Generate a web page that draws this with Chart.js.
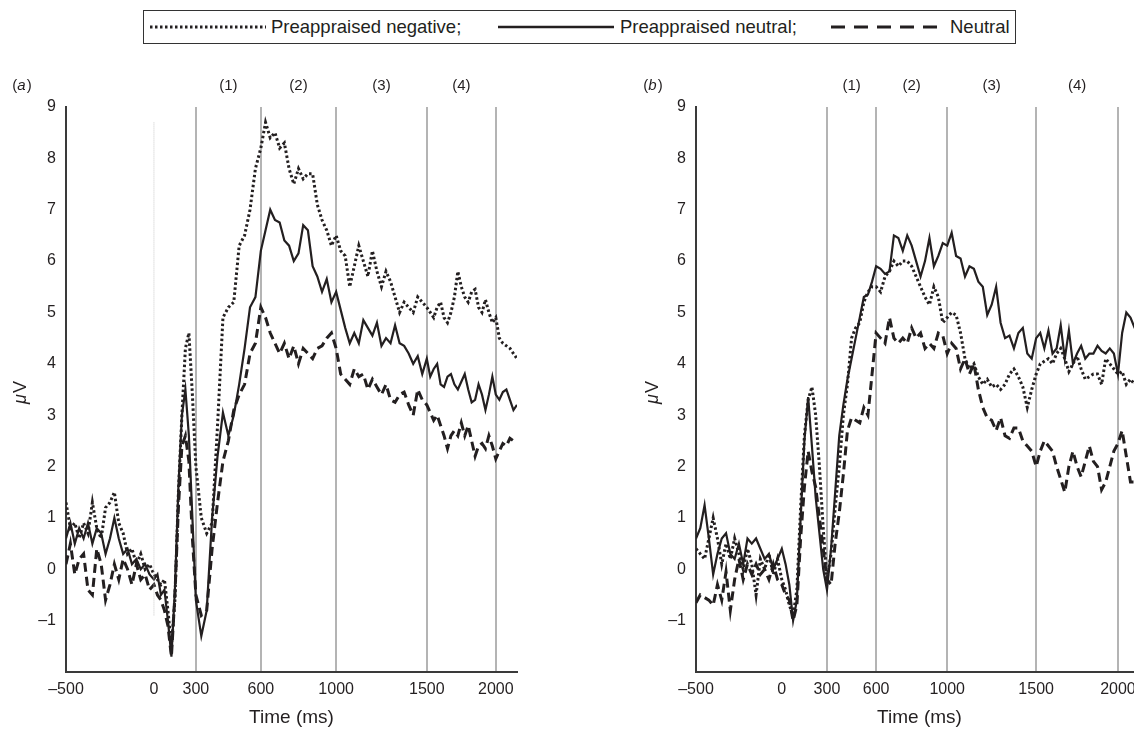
<!DOCTYPE html>
<html>
<head>
<meta charset="utf-8">
<script src="https://cdn.jsdelivr.net/npm/chart.js@4/dist/chart.umd.min.js"></script>
<style>
html, body { margin: 0; padding: 0; width: 1134px; height: 729px; overflow: hidden; background: #fff; }
body { font-family: "Liberation Sans", Arial, sans-serif; color: #231f20; position: relative; }
#legend { position: absolute; left: 143px; top: 10px; width: 871px; height: 32px; border: 1.5px solid #333; }
#legend svg { position: absolute; left: 0; top: 0; }
#legend span { position: absolute; top: 5px; font-size: 18.5px; line-height: 22px; white-space: nowrap; }
#wrapA { position: absolute; left: 0; top: 60px; width: 560px; height: 669px; }
#wrapB { position: absolute; left: 630px; top: 60px; width: 520px; height: 669px; }
</style>
</head>
<body>
<div id="legend">
  <svg width="871" height="32">
    <line x1="6" y1="16" x2="122" y2="16" stroke="#231f20" stroke-width="3" stroke-dasharray="2.5 2.5"/>
    <line x1="354" y1="16" x2="470" y2="16" stroke="#231f20" stroke-width="2.5"/>
    <line x1="687" y1="16" x2="799" y2="16" stroke="#231f20" stroke-width="3" stroke-dasharray="14 9"/>
  </svg>
  <span id="leg0" style="left:127px"></span>
  <span id="leg1" style="left:476px"></span>
  <span id="leg2" style="left:806px"></span>
</div>
<div id="wrapA"><canvas id="chartA"></canvas></div>
<div id="wrapB"><canvas id="chartB"></canvas></div>
<script>
// time axis in ms, one value every 25 ms
const times = [
  -500, -475, -450, -425, -400, -375, -350, -325, -300, -275, -250, -225, -200, -175, -150, -125, -100, -75, -50, -25, 0,
  25, 50, 75, 100, 125, 150, 175, 200, 225, 250, 275, 300,
  325, 350, 375, 400, 425, 450, 475, 500, 525, 550, 575, 600,
  625, 650, 675, 700, 725, 750, 775, 800, 825, 850, 875, 900, 925, 950, 975, 1000,
  1025, 1050, 1075, 1100, 1125, 1150, 1175, 1200, 1225, 1250, 1275, 1300, 1325, 1350, 1375, 1400, 1425, 1450, 1475, 1500,
  1525, 1550, 1575, 1600, 1625, 1650, 1675, 1700, 1725, 1750, 1775, 1800, 1825, 1850, 1875, 1900, 1925, 1950, 1975, 2000,
  2025, 2050, 2075, 2100, 2125, 2150
];

const seriesNames = ['Preappraised negative;', 'Preappraised neutral;', 'Neutral'];

// panel (a)
const negA = [
  1.3, 0.8, 0.9, 0.6, 0.9, 0.7, 1.3, 0.8, 0.6, 1.2, 1.3, 1.5, 0.9, 0.7, 0.3, 0.4, 0.1, 0.3, 0.0, 0.1, -0.1,
  -0.2, -0.3, -0.2, -0.8, -1.5, -0.6, 1.5, 3.0, 4.3, 4.6, 3.4, 2.0,
  1.0, 0.7, 0.9, 2.8, 4.9, 5.1, 5.2, 6.3, 6.5, 7.0, 7.8, 8.2,
  8.7, 8.4, 8.5, 8.2, 8.3, 7.8, 7.5, 7.8, 7.6, 7.7, 7.7, 7.1, 6.8, 6.6, 6.3, 6.5,
  6.2, 6.1, 5.5, 5.9, 6.3, 6.0, 5.7, 6.2, 5.8, 5.5, 5.8, 5.6, 5.3, 5.0, 5.2, 5.1, 5.0, 5.3, 5.2, 5.1,
  5.0, 4.9, 5.1, 5.2, 4.9, 4.8, 5.0, 5.3, 5.8, 5.5, 5.3, 5.2, 5.4, 5.45, 5.1, 5.0, 5.25, 5.0, 4.8, 4.9,
  4.5, 4.4, 4.35, 4.3, 4.2, 4.1
];
const neuA = [
  0.6, 0.9, 0.5, 0.8, 0.6, 0.9, 0.5, 0.8, 0.7, 0.3, 0.6, 1.0, 0.6, 0.3, 0.4, 0.1, 0.2, 0.0, 0.1, -0.1, -0.2,
  -0.1, -0.5, -0.4, -1.0, -1.7, -0.4, 1.6, 3.0, 3.5, 2.6, 1.0, -0.6,
  -1.3, -0.8, 1.0, 2.2, 3.05, 2.6, 3.0, 3.6, 4.3, 5.1, 5.3, 6.2,
  6.6, 7.0, 6.8, 6.75, 6.4, 6.3, 6.0, 6.15, 6.7, 6.6, 5.9, 5.7, 5.4, 5.65, 5.2, 5.4,
  5.05, 4.7, 4.4, 4.6, 4.4, 4.85, 4.7, 4.55, 4.8, 4.35, 4.5, 4.4, 4.75, 4.4, 4.35, 4.2, 4.0, 4.15, 3.8, 4.1,
  3.75, 3.9, 4.0, 3.6, 3.55, 3.75, 3.8, 3.6, 3.5, 3.65, 3.8, 3.5, 3.25, 3.3, 3.6, 3.4, 3.1, 3.4, 3.75, 3.4,
  3.3, 3.45, 3.5, 3.3, 3.1, 3.2
];
const ctlA = [
  0.1, 0.5, -0.1, 0.2, 0.3, -0.4, -0.5, 0.4, 0.1, -0.6, -0.3, 0.1, -0.2, 0.2, 0.0, -0.3, 0.1, -0.2, -0.1, -0.4, -0.3,
  -0.5, -0.6, -0.8, -1.1, -1.7, -0.5, 1.2, 2.4, 2.6, 2.1, 0.6, -0.5,
  -0.9, -0.8, 0.4, 1.3, 2.1, 2.5, 3.1, 3.4, 3.6, 4.2, 4.4, 5.1,
  4.9, 4.6, 4.4, 4.2, 4.4, 4.1, 4.35, 4.0, 4.3, 4.2, 4.1, 4.3, 4.35, 4.5, 4.6, 4.3,
  3.8, 3.7, 3.6, 3.9, 3.75, 3.8, 3.5, 3.7, 3.55, 3.4, 3.6, 3.3, 3.25, 3.4, 3.45, 3.2, 3.0, 3.5, 3.3, 3.2,
  3.05, 2.9, 3.0, 2.8, 2.6, 2.35, 2.6, 2.7, 2.6, 2.85, 2.6, 2.8, 2.5, 2.2, 2.4, 2.45, 2.35, 2.6, 2.4, 2.15,
  2.3, 2.45, 2.4, 2.55, 2.5, 2.5
];

// panel (b)
const negB = [
  0.4, 0.3, 0.2, 0.6, 1.0, 0.6, 0.1, 0.5, 0.2, 0.6, 0.3, 0.0, 0.4, 0.1, -0.5, 0.2, 0.0, 0.3, -0.1, 0.2, -0.2,
  -0.4, -0.7, -0.9, -0.4, 1.2, 2.6, 3.3, 3.55, 3.0, 2.0, 0.8, -0.2,
  0.3, 1.2, 2.0, 3.0, 3.6, 4.5, 4.7, 4.8, 5.2, 5.4, 5.5, 5.5,
  5.4, 5.7, 5.8, 6.0, 5.9, 6.0, 6.0, 5.9, 5.7, 5.5, 5.3, 5.15, 5.5, 5.3, 4.8, 4.9,
  5.0, 4.95, 4.6, 4.1, 3.9, 4.0, 3.75, 3.6, 3.7, 3.55, 3.6, 3.5, 3.6, 3.8, 3.9, 3.75, 3.55, 3.15, 3.5, 3.8,
  4.0, 4.05, 4.1, 4.0, 4.2, 4.3, 4.1, 3.85, 4.0, 4.15, 3.9, 3.7, 3.75, 3.8, 3.8, 3.6, 4.1, 4.0, 3.9, 3.8,
  3.85, 3.6, 3.7, 3.6, 3.7, 3.6
];
const neuB = [
  0.6, 0.8, 1.25, 0.6, -0.1, 0.3, 0.6, 0.7, 0.3, 0.2, 0.5, 0.1, 0.6, 0.5, 0.6, 0.4, 0.2, 0.3, 0.0, 0.2, 0.4,
  0.1, -0.3, -1.0, -0.6, 1.0, 2.5, 3.35, 2.4, 1.4, 0.7, 0.0, -0.4,
  0.4, 1.5, 2.6, 3.2, 3.7, 4.1, 4.5, 4.9, 5.3, 5.35, 5.6, 5.9,
  5.85, 5.75, 5.8, 6.5, 6.45, 6.2, 6.5, 6.3, 6.0, 5.7, 6.0, 6.45, 5.9, 6.1, 6.35, 6.3,
  6.55, 6.1, 6.05, 5.7, 5.9, 5.85, 5.6, 5.5, 4.95, 5.15, 5.5, 4.8, 4.5, 4.55, 4.3, 4.6, 4.7, 4.2, 4.1, 4.5,
  4.6, 4.3, 4.65, 4.2, 4.3, 4.75, 4.1, 4.65, 4.0, 4.2, 4.35, 4.1, 4.2, 4.2, 4.35, 4.25, 4.2, 4.3, 4.2, 3.8,
  4.6, 5.0, 4.9, 4.7, 4.6, 4.5
];
const ctlB = [
  -0.65, -0.5, -0.55, -0.6, -0.7, -0.3, -0.6, -0.05, -0.8, -0.2, 0.2, -0.2, 0.1, -0.1, 0.1, -0.1, 0.0, -0.2, 0.1, -0.2, -0.3,
  -0.5, -0.6, -1.0, -0.7, 0.6, 1.6, 2.3, 1.9, 1.6, 1.0, 0.4, -0.2,
  -0.3, 0.5, 1.1, 1.85, 2.7, 2.95, 2.9, 2.85, 3.15, 3.0, 3.8, 4.6,
  4.5, 4.4, 4.9, 4.5, 4.4, 4.5, 4.4, 4.7, 4.5, 4.6, 4.3, 4.4, 4.3, 4.6, 4.55, 4.2,
  4.4, 4.3, 3.9, 4.1, 3.8, 4.0, 3.5, 3.15, 2.95, 2.9, 2.7, 2.95, 2.6, 2.55, 2.75, 2.75, 2.5, 2.4, 2.3, 2.0,
  2.3, 2.5, 2.4, 2.3, 2.0, 1.75, 1.5, 2.0, 2.3, 2.0, 1.8, 2.1, 2.4, 2.1, 2.0, 1.55, 1.7, 2.0, 2.3, 2.45,
  2.7, 2.2, 1.7, 1.7, 1.8, 1.8
];

const xTicks = [-500, 0, 300, 600, 1000, 1500, 2000];
const windowBounds = [300, 600, 1000, 1500, 2000];
const windowLabels = ['(1)', '(2)', '(3)', '(4)'];
const zeroLineA = [8.7, -0.9];

const ink = '#231f20';
const font = '"Liberation Sans", Arial, sans-serif';

seriesNames.forEach((n, i) => document.getElementById('leg' + i).textContent = n);

// the printed time axis is not linear; warpFrac says where each warpAt value sits along the axis
class WarpScale extends Chart.LinearScale {
  warp(v) {
    const at = this.options.warpAt, fr = this.options.warpFrac;
    let i = 0;
    while (i < at.length - 2 && v > at[i + 1]) i++;
    const f = fr[i] + (v - at[i]) / (at[i + 1] - at[i]) * (fr[i + 1] - fr[i]);
    return this.min + f * (this.max - this.min);
  }
  unwarp(w) {
    const at = this.options.warpAt, fr = this.options.warpFrac;
    const f = (w - this.min) / (this.max - this.min);
    let i = 0;
    while (i < fr.length - 2 && f > fr[i + 1]) i++;
    return at[i] + (f - fr[i]) / (fr[i + 1] - fr[i]) * (at[i + 1] - at[i]);
  }
  getPixelForValue(v) {
    return super.getPixelForValue(this.warp(v));
  }
  getValueForPixel(p) {
    return this.unwarp(super.getValueForPixel(p));
  }
}
WarpScale.id = 'warp';
WarpScale.defaults = Chart.LinearScale.defaults;
Chart.register(WarpScale);

// draws "(plain) italic (plain)" pieces centred on cx
function drawMixed(ctx, parts, cx, cy, size) {
  const widths = parts.map(p => {
    ctx.font = (p.italic ? 'italic ' : '') + size + 'px ' + font;
    return ctx.measureText(p.text).width + (p.italic ? 1 : 0);
  });
  let x = cx - widths.reduce((a, b) => a + b, 0) / 2;
  parts.forEach((p, i) => {
    ctx.font = (p.italic ? 'italic ' : '') + size + 'px ' + font;
    ctx.fillText(p.text, x, cy);
    x += widths[i];
  });
}

const labelPlugin = {
  id: 'windowLabels',
  afterDraw(chart, args, opts) {
    const ctx = chart.ctx;
    const x = chart.scales.x, y = chart.scales.y;
    ctx.save();
    ctx.fillStyle = ink;
    ctx.textBaseline = 'middle';
    ctx.textAlign = 'center';
    ctx.font = '15px ' + font;
    windowLabels.forEach((lab, i) => {
      const px = (x.getPixelForValue(windowBounds[i]) + x.getPixelForValue(windowBounds[i + 1])) / 2;
      ctx.fillText(lab, px, opts.y);
    });
    ctx.textAlign = 'left';
    drawMixed(ctx, [{ text: '(' }, { text: opts.letter, italic: true }, { text: ')' }], opts.letterX, opts.y, 15);
    // rotated y-axis title with italic mu
    ctx.translate(opts.unitX, (y.top + y.bottom) / 2 + 3);
    ctx.rotate(-Math.PI / 2);
    drawMixed(ctx, [{ text: '\u03bc', italic: true }, { text: 'V' }], 0, 0, 18);
    ctx.restore();
  }
};

function toPoints(vals) {
  return times.map((t, i) => ({ x: t, y: vals[i] }));
}

function makeChart(id, neg, neu, ctl, cfg) {
  const datasets = [
    { label: seriesNames[0], data: toPoints(neg), borderColor: ink, borderWidth: 3, borderDash: [2.5, 2.5] },
    { label: seriesNames[1], data: toPoints(neu), borderColor: ink, borderWidth: 2.2 },
    { label: seriesNames[2], data: toPoints(ctl), borderColor: ink, borderWidth: 3, borderDash: [9, 5] }
  ];
  if (cfg.zeroLine) {
    datasets.unshift({
      label: 'onset', data: cfg.zeroLine.map(v => ({ x: 0, y: v })),
      borderColor: '#c8c8c8', borderWidth: 1, borderDash: [1, 1]
    });
  }
  return new Chart(document.getElementById(id), {
    type: 'line',
    data: { datasets: datasets },
    plugins: [labelPlugin],
    options: {
      responsive: true,
      maintainAspectRatio: false,
      animation: false,
      events: [],
      elements: { point: { radius: 0 }, line: { tension: 0, fill: false } },
      layout: { padding: { top: 47, right: cfg.padRight, left: 0, bottom: 0 } },
      plugins: {
        legend: { display: false },
        tooltip: { enabled: false },
        windowLabels: { y: 26, letter: cfg.letter, letterX: cfg.letterX, unitX: cfg.unitX }
      },
      scales: {
        x: {
          type: 'warp',
          min: -500,
          max: 2150,
          warpAt: [-500, 0, 300, 600, 1000, 1500, 2000, 2150],
          warpFrac: cfg.warpFrac,
          afterBuildTicks: s => { s.ticks = xTicks.map(v => ({ value: v })); },
          afterFit: s => { s.height = 57; },
          ticks: {
            autoSkip: false, maxRotation: 0, padding: 8, color: ink,
            font: { family: font, size: 16 },
            callback: v => String(v).replace('-', '\u2013')
          },
          grid: {
            drawTicks: false,
            lineWidth: 2,
            color: c => windowBounds.includes(c.tick && c.tick.value) ? '#b4b4b4' : 'rgba(0,0,0,0)'
          },
          border: { color: '#3a3a3a', width: 2 },
          title: {
            display: true, text: 'Time (ms)', color: ink,
            font: { family: font, size: 19 }, padding: { top: 0, bottom: 0 }
          }
        },
        y: {
          min: -2,
          max: 9,
          afterFit: s => { s.width = 66; },
          ticks: {
            stepSize: 1, padding: 10, color: ink,
            font: { family: font, size: 16 },
            callback: v => v === -2 ? '' : String(v).replace('-', '\u2013')
          },
          grid: { display: false, drawTicks: false },
          border: { color: '#3a3a3a', width: 2 },
          title: { display: false }
        }
      }
    }
  });
}

makeChart('chartA', negA, neuA, ctlA, {
  letter: 'a', letterX: 22, unitX: 21, padRight: 43, zeroLine: zeroLineA,
  warpFrac: [0, 0.195, 0.288, 0.432, 0.599, 0.800, 0.953, 1]
});
makeChart('chartB', negB, neuB, ctlB, {
  letter: 'b', letterX: 23, unitX: 23, padRight: 7,
  warpFrac: [0, 0.192, 0.293, 0.403, 0.562, 0.761, 0.944, 1]
});
</script>
</body>
</html>
